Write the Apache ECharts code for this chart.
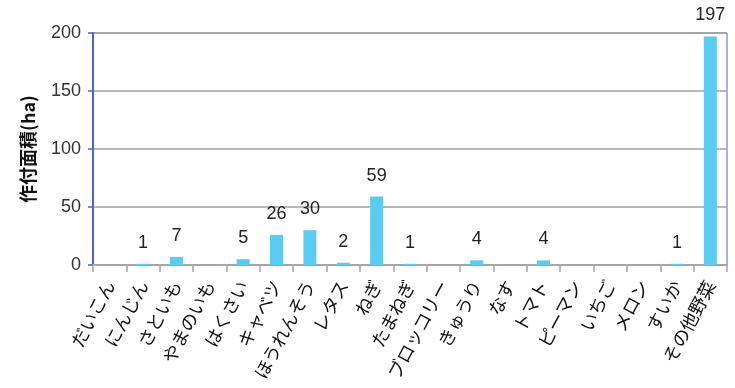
<!DOCTYPE html>
<html>
<head>
<meta charset="utf-8">
<script src="https://cdn.jsdelivr.net/npm/echarts@6/dist/echarts.min.js"></script>
<style>
  html, body { margin: 0; padding: 0; background: #fff; }
  #chart { width: 735px; height: 388px; }
</style>
</head>
<body>
<div id="chart"></div>
<script>
// 品目
const categories = ['だいこん', 'にんじん', 'さといも', 'やまのいも', 'はくさい', 'キャベツ', 'ほうれんそう', 'レタス', 'ねぎ', 'たまねぎ',
  'ブロッコリー', 'きゅうり', 'なす', 'トマト', 'ピーマン', 'いちご', 'メロン', 'すいか', 'その他野菜']
// 作付面積 (ha)、空欄は null
const areas = [null, 1, 7, null, 5, 26, 30, 2, 59, 1, null, 4, null, 4, null, null, null, 1, 197]
const yTicks = [0, 50, 100, 150, 200]

const jp = '"Noto Sans CJK JP", "Noto Sans", sans-serif'
const num = '"Liberation Sans", "Noto Sans", sans-serif'

const chart = echarts.init(document.getElementById('chart'))
chart.setOption({
  animation: false,
  grid: {
    left: 93,
    right: 8,
    top: 33,
    bottom: 123,
    show: true,
    borderColor: '#4a62d4',
    borderWidth: 1
  },
  xAxis: {
    type: 'category',
    data: categories,
    axisLine: { lineStyle: { color: '#a6a6a6', width: 2 } },
    axisTick: { show: true, length: 7, lineStyle: { color: '#a6a6a6', width: 1.5 } },
    axisLabel: {
      interval: 0,
      rotate: 62,
      margin: 17,
      color: '#111',
      fontSize: 18,
      fontFamily: jp
    }
  },
  yAxis: {
    type: 'value',
    min: yTicks[0],
    max: yTicks[yTicks.length - 1],
    interval: 50,
    name: '作付面積(ha)',
    nameLocation: 'middle',
    nameGap: 56,
    nameTextStyle: { fontSize: 18, fontWeight: 'bold', color: '#111', fontFamily: jp },
    axisLine: { show: true, lineStyle: { color: '#4a62d4', width: 2 } },
    axisTick: { show: true, length: 5, lineStyle: { color: '#4a62d4', width: 1.5 } },
    axisLabel: { color: '#333', fontSize: 18, fontFamily: num, margin: 12 },
    splitLine: { lineStyle: { color: '#a0a0a0', width: 1.5 } }
  },
  series: [{
    type: 'bar',
    data: areas,
    barWidth: 13,
    itemStyle: { color: '#5ccbf1' },
    label: {
      show: true,
      position: 'top',
      distance: 12,
      color: '#222',
      fontSize: 18,
      fontFamily: num
    }
  }]
})
</script>
</body>
</html>
